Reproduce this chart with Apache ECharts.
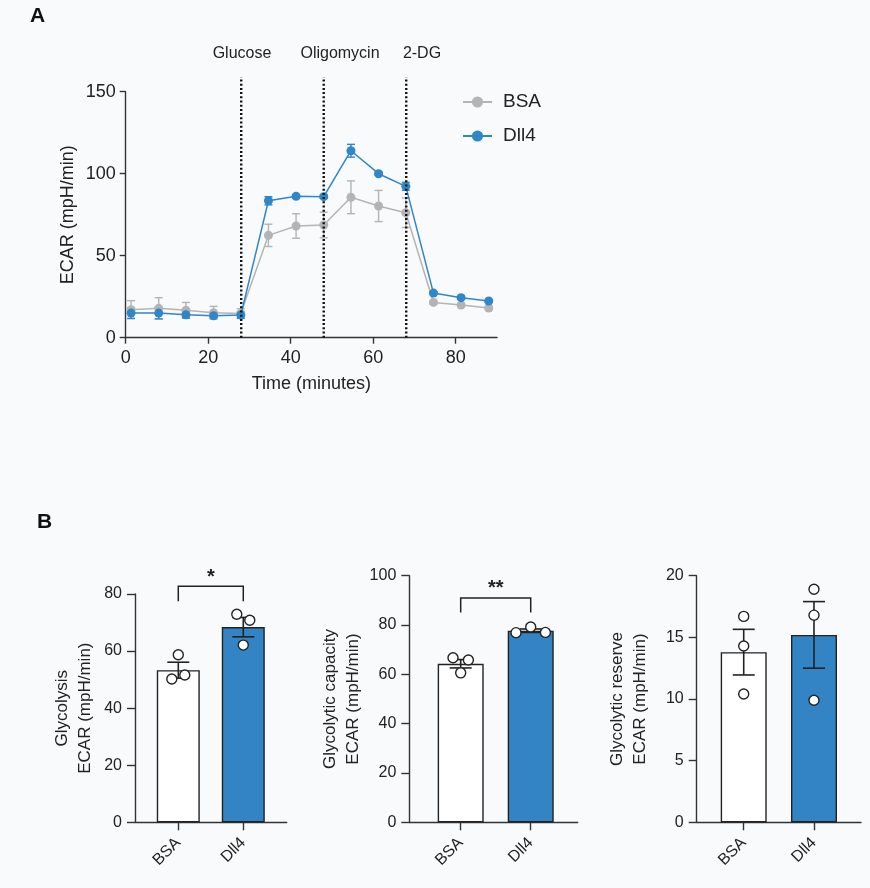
<!DOCTYPE html>
<html>
<head>
<meta charset="utf-8">
<script src="https://cdn.jsdelivr.net/npm/echarts@6/dist/echarts.min.js"></script>
<style>
html,body{margin:0;padding:0;background:#f9fafc;}
#c{width:870px;height:888px;}
</style>
</head>
<body>
<div id="c"></div>
<script>
// ---------- Panel A data ----------
const timeMin   = [1.3, 8, 14.6, 21.3, 27.9, 34.6, 41.3, 48, 54.6, 61.3, 67.9, 74.6, 81.3, 88];
const bsaECAR   = [17.1, 17.9, 16.7, 15.2, 14.8, 62.4, 68.1, 68.7, 85.6, 80.3, 76.2, 21.5, 19.9, 18.1];
const bsaSEM    = [5.5, 6.5, 4.8, 3.9, 2.9, 6.8, 7.5, 7.8, 10.0, 9.5, 9.0, 1.0, 1.0, 1.0];
const dll4ECAR  = [15.0, 15.0, 14.0, 13.4, 13.8, 83.5, 86.2, 86.0, 114.0, 100.0, 92.3, 27.2, 24.4, 22.4];
const dll4SEM   = [3.2, 3.5, 2.0, 1.5, 2.0, 2.5, 1.0, 1.0, 3.9, 1.0, 2.4, 0.8, 0.8, 0.8];
const injectionTimes = [28, 48, 68];
const injectionNames = ['Glucose', 'Oligomycin', '2-DG'];
const timeTicks = [0, 20, 40, 60, 80];

// ---------- Panel B data ----------
const groups = ['BSA', 'Dll4'];
const glycolysisMean   = [53.3, 68.4];
const glycolysisSEM    = [2.8, 3.4];
const glycolysisPoints = [[58.7, 50.2, 51.6], [72.9, 70.8, 62.1]];
const glycolysisJitter = [[0, -0.1, 0.1], [-0.1, 0.1, 0]];

const capacityMean   = [64.3, 77.7];
const capacitySEM    = [1.7, 0.7];
const capacityPoints = [[66.7, 65.8, 60.6], [76.9, 79.2, 77.0]];
const capacityJitter = [[-0.11, 0.11, 0], [-0.21, 0, 0.21]];

const reserveMean   = [13.8, 15.2];
const reserveSEM    = [1.85, 2.7];
const reservePoints = [[16.7, 14.3, 10.4], [18.9, 16.8, 9.9]];
const reserveJitter = [[0, 0, 0], [0, 0, 0]];

const FONT = '"Liberation Sans", Arial, Helvetica, sans-serif';
const AX = '#333';
const GRAY = '#b4b4b4';
const BLUE = '#2f86c8';
const BARBLUE = '#3284c4';

const chart = echarts.init(document.getElementById('c'), null, {renderer: 'canvas'});

function errSeries(xIdx, yIdx, xs, means, sems, color, capHalf, lw, z) {
  return {
    type: 'custom', xAxisIndex: xIdx, yAxisIndex: yIdx, z: z, silent: true,
    data: xs.map((x, i) => [x, means[i] - sems[i], means[i] + sems[i]]),
    renderItem: function (params, api) {
      const lo = api.coord([api.value(0), api.value(1)]);
      const hi = api.coord([api.value(0), api.value(2)]);
      const st = {stroke: color, lineWidth: lw};
      return {type: 'group', children: [
        {type: 'line', shape: {x1: lo[0], y1: lo[1], x2: hi[0], y2: hi[1]}, style: st},
        {type: 'line', shape: {x1: lo[0] - capHalf, y1: lo[1], x2: lo[0] + capHalf, y2: lo[1]}, style: st},
        {type: 'line', shape: {x1: hi[0] - capHalf, y1: hi[1], x2: hi[0] + capHalf, y2: hi[1]}, style: st}
      ]};
    }
  };
}

function barPanel(idx, means, sems, points, jitter, bw, bracket) {
  const series = [];
  series.push({
    type: 'bar', xAxisIndex: idx, yAxisIndex: idx, barWidth: bw, z: 2,
    data: means.map((m, i) => ({
      value: [i, m],
      itemStyle: {color: i === 0 ? '#ffffff' : BARBLUE, borderColor: '#222', borderWidth: 1.4}
    }))
  });
  series.push(errSeries(idx, idx, [0, 1], means, sems, '#222', 11, 1.6, 3));
  const pts = [];
  points.forEach((arr, g) => arr.forEach((v, k) => pts.push([g + jitter[g][k], v])));
  series.push({
    type: 'scatter', xAxisIndex: idx, yAxisIndex: idx, z: 4, symbol: 'circle', symbolSize: 10,
    itemStyle: {color: '#ffffff', borderColor: '#222', borderWidth: 1.4, opacity: 1},
    data: pts
  });
  if (bracket) {
    series.push({
      type: 'custom', xAxisIndex: idx, yAxisIndex: idx, z: 5, silent: true,
      data: [[0, bracket.y, 1, bracket.drop]],
      renderItem: function (params, api) {
        const a = api.coord([api.value(0), api.value(1)]);
        const b = api.coord([api.value(2), api.value(1)]);
        const a2 = api.coord([api.value(0), api.value(1) - api.value(3)]);
        const st = {stroke: '#222', lineWidth: 1.5, fill: null};
        return {type: 'group', children: [
          {type: 'polyline', shape: {points: [[a[0], a2[1]], a, b, [b[0], a2[1]]]}, style: st},
          {type: 'text', x: (a[0] + b[0]) / 2, y: a[1] + 1,
           style: {text: bracket.text, font: 'bold 20px ' + FONT, fill: '#222', align: 'center', verticalAlign: 'bottom'}}
        ]};
      }
    });
  }
  return series;
}

function catX(idx, min, max) {
  return {
    type: 'value', gridIndex: idx, min: min, max: max,
    axisLine: {show: true, onZero: false, lineStyle: {color: AX, width: 1.4}},
    axisTick: {show: true, length: 8, customValues: [0, 1], lineStyle: {color: AX, width: 1.4}},
    axisLabel: {customValues: [0, 1], formatter: v => groups[Math.round(v)], rotate: 45, margin: 18,
      fontSize: 16, color: '#222', fontFamily: FONT},
    splitLine: {show: false}
  };
}
function valY(idx, max, interval, name, gap) {
  return {
    type: 'value', gridIndex: idx, min: 0, max: max, interval: interval,
    name: name, nameLocation: 'middle', nameGap: gap, nameRotate: 90,
    nameTextStyle: {fontSize: 17, color: '#222', fontFamily: FONT, lineHeight: 23},
    axisLine: {show: true, onZero: false, lineStyle: {color: AX, width: 1.4}},
    axisTick: {show: true, length: 8, lineStyle: {color: AX, width: 1.4}},
    axisLabel: {fontSize: 16, color: '#222', fontFamily: FONT, margin: 13},
    splitLine: {show: false}
  };
}

const seriesA = [
  errSeries(0, 0, timeMin, bsaECAR, bsaSEM, GRAY, 4, 1.4, 1),
  errSeries(0, 0, timeMin, dll4ECAR, dll4SEM, BLUE, 4, 1.4, 1),
  {
    name: 'BSA', type: 'line', xAxisIndex: 0, yAxisIndex: 0, z: 2,
    data: timeMin.map((t, i) => [t, bsaECAR[i]]),
    symbol: 'circle', symbolSize: 9, color: GRAY,
    lineStyle: {color: GRAY, width: 1.5}, itemStyle: {color: GRAY}
  },
  {
    name: 'Dll4', type: 'line', xAxisIndex: 0, yAxisIndex: 0, z: 3,
    data: timeMin.map((t, i) => [t, dll4ECAR[i]]),
    symbol: 'circle', symbolSize: 9, color: BLUE,
    lineStyle: {color: BLUE, width: 1.5}, itemStyle: {color: BLUE}
  },
  {
    type: 'custom', xAxisIndex: 0, yAxisIndex: 0, z: 6, silent: true,
    data: injectionTimes.map(t => [t]),
    renderItem: function (params, api) {
      const b = api.coord([api.value(0), 0]);
      const t = api.coord([api.value(0), 159]);
      return {type: 'line', shape: {x1: b[0], y1: b[1], x2: t[0], y2: t[1]},
        style: {stroke: '#111', lineWidth: 2.4, lineDash: [2, 2.2]}};
    }
  }
];

const option = {
  backgroundColor: '#f9fafc',
  animation: false,
  textStyle: {fontFamily: FONT},
  grid: [
    {left: 125.7, top: 91.7, width: 371.3, height: 246},
    {left: 135, top: 594, width: 151.7, height: 228.3},
    {left: 409.3, top: 575.7, width: 168.4, height: 246.6},
    {left: 696.7, top: 575.7, width: 164.3, height: 246.6}
  ],
  legend: {
    data: ['BSA', 'Dll4'], orient: 'vertical', left: 457, top: 87,
    itemWidth: 29, itemHeight: 14, itemGap: 14,
    textStyle: {fontSize: 19, color: '#222', fontFamily: FONT, lineHeight: 20, padding: [0, 0, 0, 6]}
  },
  xAxis: [
    {
      type: 'value', gridIndex: 0, min: 0, max: 90,
      name: 'Time (minutes)', nameLocation: 'middle', nameGap: 37,
      nameTextStyle: {fontSize: 18, color: '#222', fontFamily: FONT},
      axisLine: {show: true, onZero: false, lineStyle: {color: AX, width: 1.4}},
      axisTick: {show: true, length: 6, customValues: timeTicks, lineStyle: {color: AX, width: 1.4}},
      axisLabel: {customValues: timeTicks, fontSize: 18, color: '#222', fontFamily: FONT, margin: 11},
      splitLine: {show: false}
    },
    catX(1, -0.666, 1.668),
    catX(2, -0.734, 1.671),
    catX(3, -0.669, 1.669)
  ],
  yAxis: [
    {
      type: 'value', gridIndex: 0, min: 0, max: 150, interval: 50,
      name: 'ECAR (mpH/min)', nameLocation: 'middle', nameGap: 49, nameRotate: 90,
      nameTextStyle: {fontSize: 18, color: '#222', fontFamily: FONT},
      axisLine: {show: true, onZero: false, lineStyle: {color: AX, width: 1.4}},
      axisTick: {show: true, length: 6, lineStyle: {color: AX, width: 1.4}},
      axisLabel: {fontSize: 18, color: '#222', fontFamily: FONT, margin: 10},
      splitLine: {show: false}
    },
    valY(1, 80, 20, 'Glycolysis\nECAR (mpH/min)', 38),
    valY(2, 100, 20, 'Glycolytic capacity\nECAR (mpH/min)', 44),
    valY(3, 20, 5, 'Glycolytic reserve\nECAR (mpH/min)', 45)
  ],
  graphic: [
    {type: 'text', left: 30, top: 6, style: {text: 'A', font: 'bold 21px ' + FONT, fill: '#111'}},
    {type: 'text', left: 37, top: 512, style: {text: 'B', font: 'bold 21px ' + FONT, fill: '#111'}},
    {type: 'text', x: 242, y: 53.5, style: {text: injectionNames[0], font: '16px ' + FONT, fill: '#222', align: 'center', verticalAlign: 'middle'}},
    {type: 'text', x: 340, y: 53.5, style: {text: injectionNames[1], font: '16px ' + FONT, fill: '#222', align: 'center', verticalAlign: 'middle'}},
    {type: 'text', x: 422, y: 53.5, style: {text: injectionNames[2], font: '16px ' + FONT, fill: '#222', align: 'center', verticalAlign: 'middle'}}
  ],
  series: [].concat(
    seriesA,
    barPanel(1, glycolysisMean, glycolysisSEM, glycolysisPoints, glycolysisJitter, 43, {y: 82.7, drop: 5.2, text: '*'}),
    barPanel(2, capacityMean, capacitySEM, capacityPoints, capacityJitter, 46, {y: 91.0, drop: 5.9, text: '**'}),
    barPanel(3, reserveMean, reserveSEM, reservePoints, reserveJitter, 46, null)
  )
};
chart.setOption(option);
</script>
</body>
</html>
